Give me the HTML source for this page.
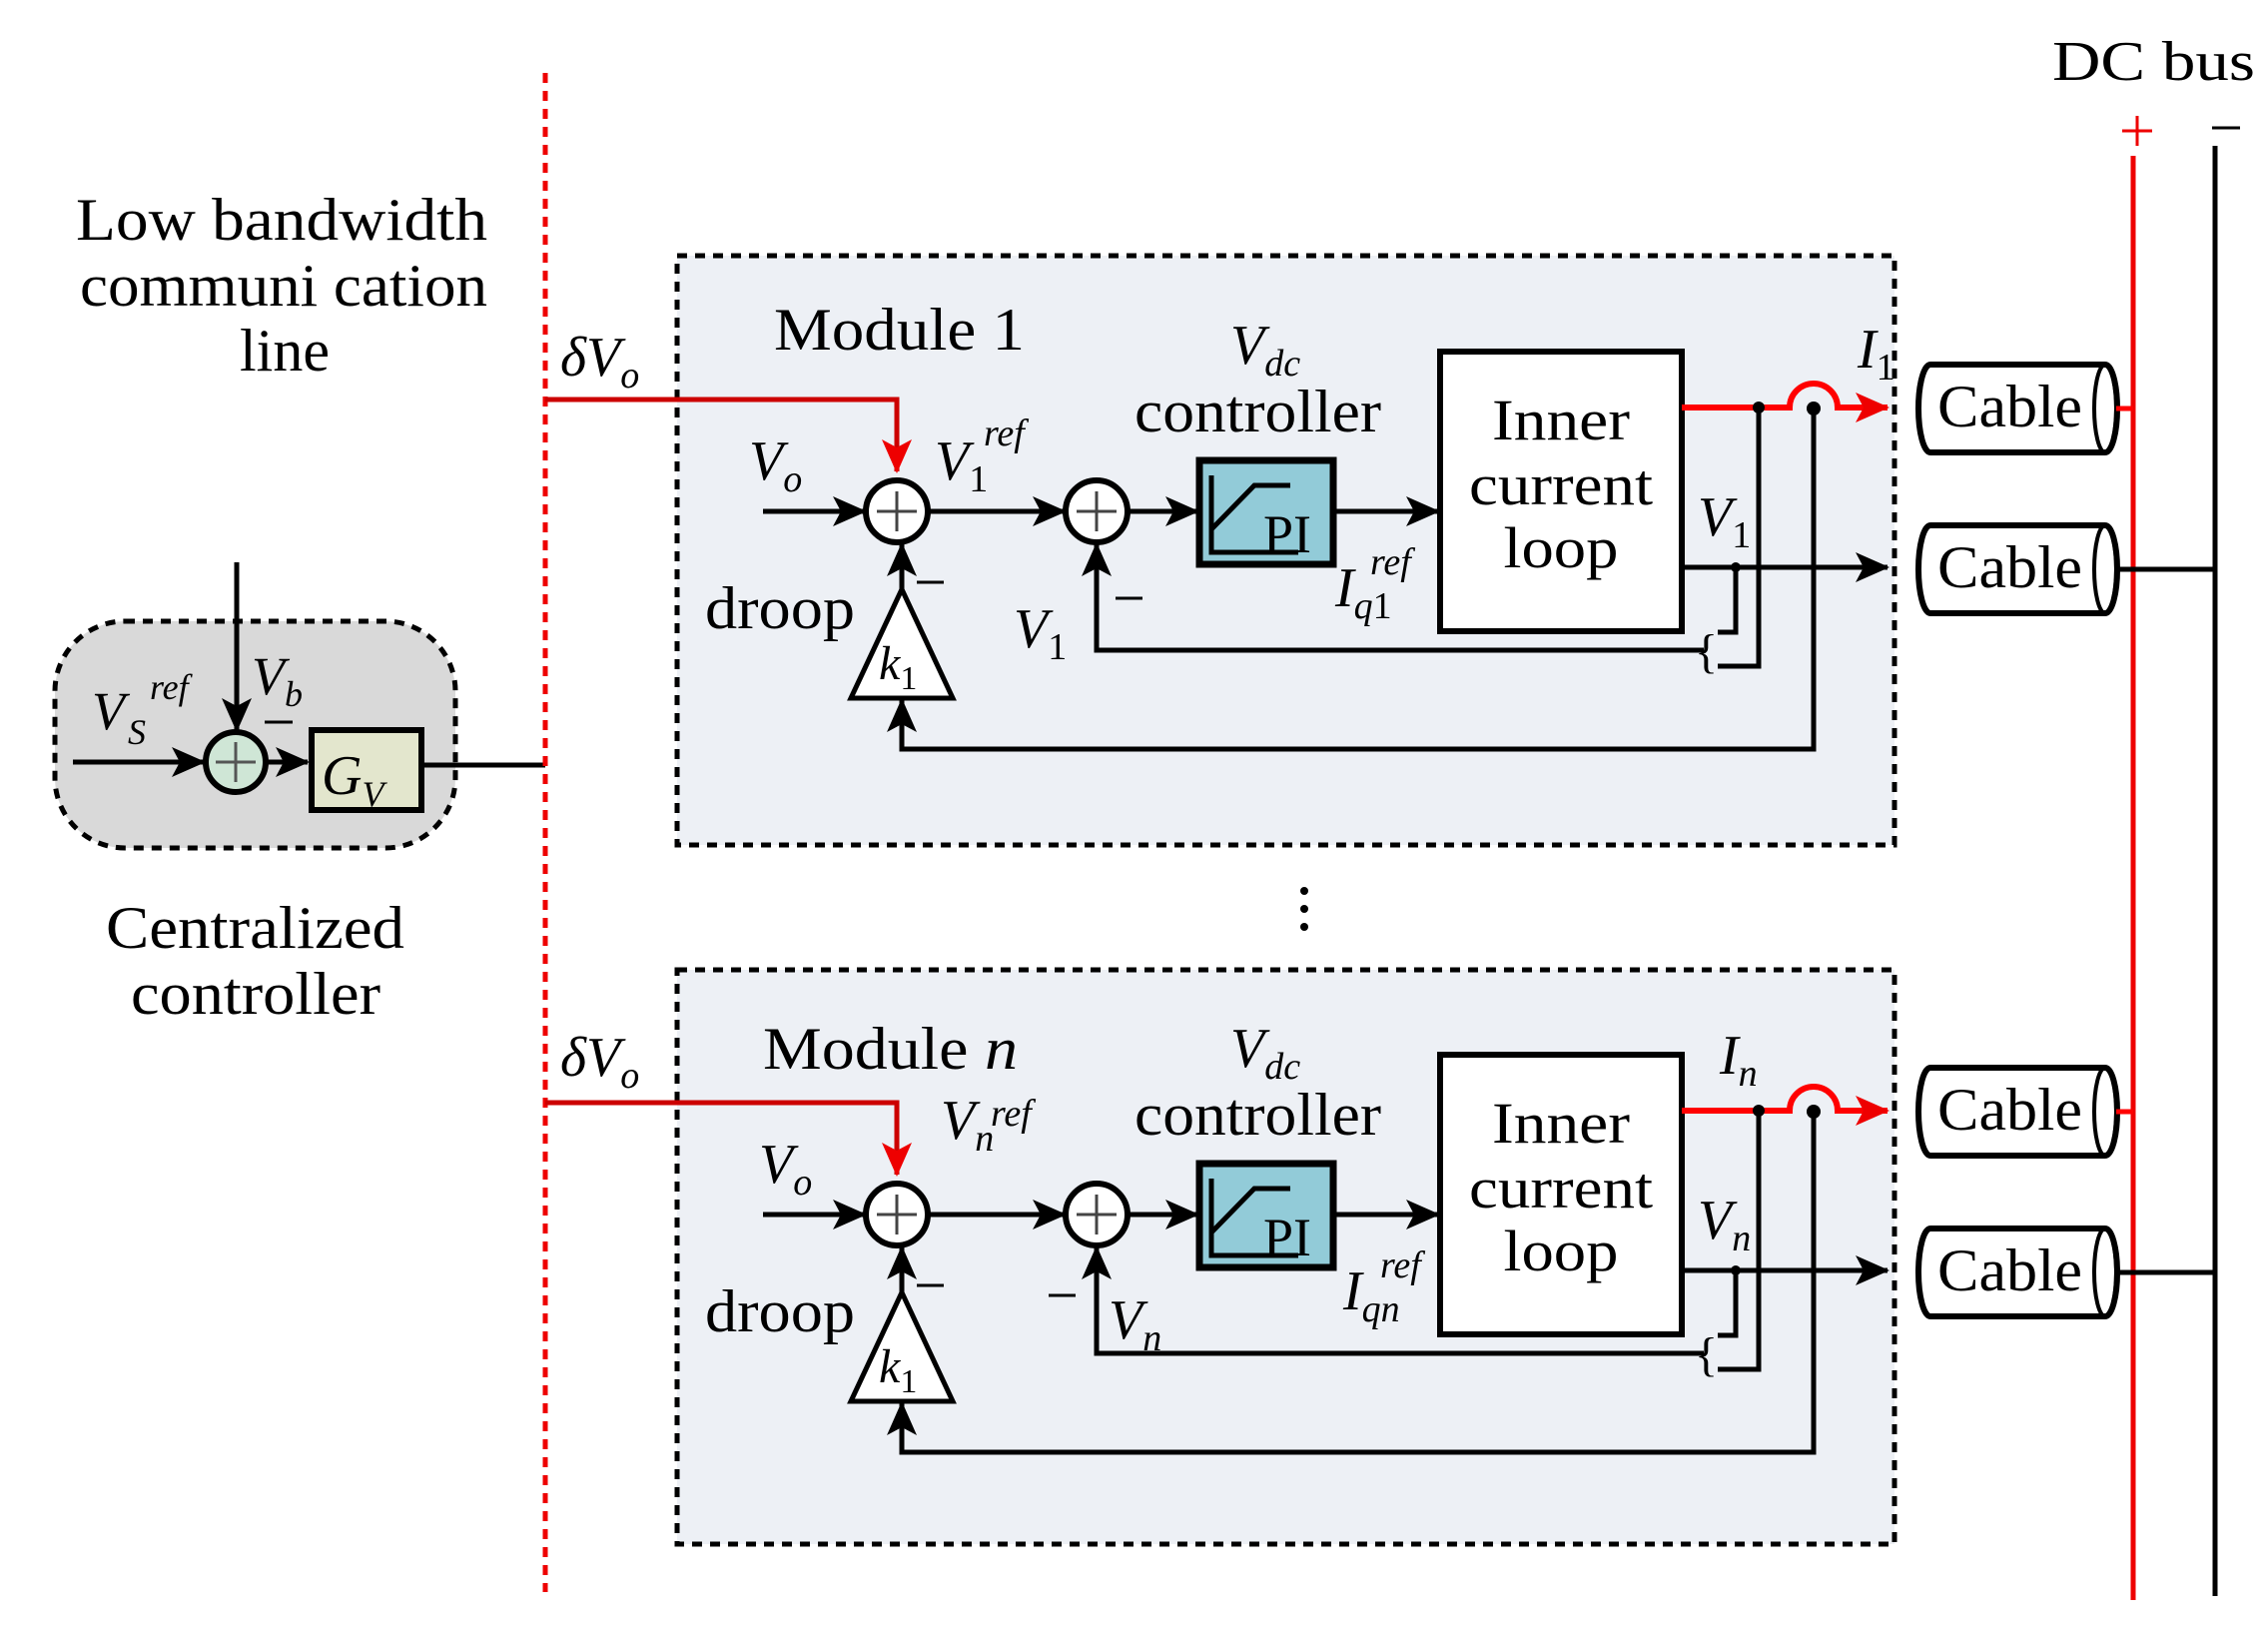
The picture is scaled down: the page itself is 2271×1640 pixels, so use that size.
<!DOCTYPE html>
<html><head><meta charset="utf-8"><style>
html,body{margin:0;padding:0;background:#fff}
svg{display:block}
text{font-family:"Liberation Serif",serif;fill:#000}
.i{font-style:italic}
</style></head><body>
<svg width="2271" height="1640" viewBox="0 0 2271 1640" xmlns="http://www.w3.org/2000/svg">
<defs>
<marker id="ab" markerUnits="userSpaceOnUse" markerWidth="34" markerHeight="30" refX="32" refY="15" orient="auto"><path d="M0,0 L34,15 L0,30 L8,15 Z" fill="#000"/></marker>
<marker id="ar" markerUnits="userSpaceOnUse" markerWidth="34" markerHeight="30" refX="32" refY="15" orient="auto"><path d="M0,0 L34,15 L0,30 L8,15 Z" fill="#e00"/></marker>
</defs>

<text x="76" y="240" font-size="60" textLength="412" lengthAdjust="spacingAndGlyphs">Low bandwidth</text>
<text x="80" y="306" font-size="60" textLength="408" lengthAdjust="spacingAndGlyphs">communi cation</text>
<text x="285" y="371" font-size="60" text-anchor="middle">line</text>
<text x="106" y="949" font-size="60" textLength="299" lengthAdjust="spacingAndGlyphs">Centralized</text>
<text x="131" y="1015" font-size="60" textLength="250" lengthAdjust="spacingAndGlyphs">controller</text>

<rect x="55" y="622" width="401" height="227" rx="70" fill="#d9d9d9" stroke="#000" stroke-width="5" stroke-dasharray="10,8"/>
<line x1="73" y1="763" x2="204" y2="763" stroke="#000" stroke-width="5" marker-end="url(#ab)"/>
<line x1="237" y1="563" x2="237" y2="731" stroke="#000" stroke-width="5" marker-end="url(#ab)"/>
<circle cx="236" cy="763" r="30" fill="#cfe6d6" stroke="#000" stroke-width="6"/>
<path d="M216,763 H256 M236,743 V783" stroke="#555" stroke-width="3"/>
<line x1="266" y1="763" x2="308" y2="763" stroke="#000" stroke-width="5" marker-end="url(#ab)"/>
<rect x="312" y="731" width="110" height="80" fill="#e3e6cd" stroke="#000" stroke-width="6"/>
<text x="322" y="795" font-size="56" class="i">G<tspan font-size="36" dy="12">V</tspan></text>
<line x1="422" y1="766" x2="546" y2="766" stroke="#000" stroke-width="5"/>
<text x="92" y="730" font-size="54" class="i">V</text><text x="128" y="745" font-size="36" class="i">S</text><text x="150" y="700" font-size="36" class="i">ref</text>
<text x="252" y="695" font-size="54" class="i">V<tspan font-size="36" dy="12">b</tspan></text>
<line x1="265" y1="723" x2="293" y2="723" stroke="#000" stroke-width="3"/>

<line x1="546" y1="73" x2="546" y2="1594" stroke="#e00" stroke-width="5" stroke-dasharray="10,8"/>

<text x="2055" y="80" font-size="56" textLength="203" lengthAdjust="spacingAndGlyphs">DC bus</text>
<path d="M2125,131 H2155 M2140,116 V146" stroke="#e00" stroke-width="3"/>
<line x1="2215" y1="128" x2="2243" y2="128" stroke="#000" stroke-width="3"/>
<line x1="2136" y1="156" x2="2136" y2="1602" stroke="#e00" stroke-width="5"/>
<line x1="2218" y1="146" x2="2218" y2="1598" stroke="#000" stroke-width="5"/>

<rect x="678" y="256" width="1219" height="590" fill="#edf0f5" stroke="#000" stroke-width="5" stroke-dasharray="10,8"/>
<rect x="678" y="971" width="1219" height="575" fill="#edf0f5" stroke="#000" stroke-width="5" stroke-dasharray="10,8"/>
<circle cx="1306" cy="892" r="4" fill="#000"/><circle cx="1306" cy="910" r="4" fill="#000"/><circle cx="1306" cy="928" r="4" fill="#000"/>

<g id="m1">
<path d="M546,400 H898 V472" fill="none" stroke="#c00" stroke-width="5" marker-end="url(#ar)"/>
<line x1="764" y1="512" x2="866" y2="512" stroke="#000" stroke-width="5" marker-end="url(#ab)"/>
<circle cx="898" cy="512" r="31" fill="#fff" stroke="#000" stroke-width="6"/>
<path d="M878,512 H918 M898,492 V532" stroke="#444" stroke-width="3"/>
<line x1="929" y1="512" x2="1066" y2="512" stroke="#000" stroke-width="5" marker-end="url(#ab)"/>
<circle cx="1098" cy="512" r="31" fill="#fff" stroke="#000" stroke-width="6"/>
<path d="M1078,512 H1118 M1098,492 V532" stroke="#444" stroke-width="3"/>
<line x1="1129" y1="512" x2="1199" y2="512" stroke="#000" stroke-width="5" marker-end="url(#ab)"/>
<rect x="1201" y="461" width="134" height="104" fill="#92cbd8" stroke="#000" stroke-width="7"/>
<path d="M1213,476 V553 H1300 M1213,530 L1256,486 H1292" fill="none" stroke="#000" stroke-width="5"/>
<text x="1265" y="553" font-size="54">PI</text>
<line x1="1335" y1="512" x2="1440" y2="512" stroke="#000" stroke-width="5" marker-end="url(#ab)"/>
<rect x="1442" y="352" width="242" height="280" fill="#fff" stroke="#000" stroke-width="6"/>
<text x="1563" y="440" font-size="58" text-anchor="middle" textLength="138" lengthAdjust="spacingAndGlyphs">Inner</text>
<text x="1563" y="505" font-size="58" text-anchor="middle" textLength="184" lengthAdjust="spacingAndGlyphs">current</text>
<text x="1563" y="568" font-size="58" text-anchor="middle" textLength="115" lengthAdjust="spacingAndGlyphs">loop</text>
<path d="M903,590 L954,699 H852 Z" fill="#fff" stroke="#000" stroke-width="5"/>
<text x="880" y="680" font-size="48" class="i">k<tspan font-size="34" dy="10" font-style="normal">1</tspan></text>
<line x1="903" y1="590" x2="903" y2="545" stroke="#000" stroke-width="5" marker-end="url(#ab)"/>
<line x1="918" y1="583" x2="945" y2="583" stroke="#000" stroke-width="3"/>
<path d="M1816,409 V750 H903 V701" fill="none" stroke="#000" stroke-width="5" marker-end="url(#ab)"/>
<path d="M1706,651 H1098 V545" fill="none" stroke="#000" stroke-width="5" marker-end="url(#ab)"/>
<path d="M1684,408 H1792 A24,24 0 0 1 1840,408 H1890" fill="none" stroke="#f00" stroke-width="6" marker-end="url(#ar)"/>
<line x1="1684" y1="568" x2="1890" y2="568" stroke="#000" stroke-width="5" marker-end="url(#ab)"/>
<circle cx="1761" cy="408" r="6" fill="#000"/><circle cx="1816" cy="409" r="7" fill="#000"/><circle cx="1738" cy="568" r="5" fill="#000"/>
<path d="M1761,408 V667 H1720" fill="none" stroke="#000" stroke-width="5"/>
<path d="M1738,568 V633 H1720" fill="none" stroke="#000" stroke-width="5"/>
<text x="1697" y="668" font-size="48">{</text>
<path d="M1933,365 H2108 A12,44 0 0 1 2108,453 H1933 A12,44 0 0 1 1933,365 Z" fill="#fff" stroke="#000" stroke-width="6"/>
<ellipse cx="2108" cy="409" rx="11" ry="44" fill="none" stroke="#000" stroke-width="4"/>
<text x="1940" y="427" font-size="60" textLength="145" lengthAdjust="spacingAndGlyphs">Cable</text>
<line x1="2119" y1="409" x2="2136" y2="409" stroke="#f00" stroke-width="5"/>
<path d="M1933,526 H2108 A12,44 0 0 1 2108,614 H1933 A12,44 0 0 1 1933,526 Z" fill="#fff" stroke="#000" stroke-width="6"/>
<ellipse cx="2108" cy="570" rx="11" ry="44" fill="none" stroke="#000" stroke-width="4"/>
<text x="1940" y="588" font-size="60" textLength="145" lengthAdjust="spacingAndGlyphs">Cable</text>
<line x1="2119" y1="570" x2="2218" y2="570" stroke="#000" stroke-width="5"/>
<text x="706" y="629" font-size="60" textLength="150" lengthAdjust="spacingAndGlyphs">droop</text>
<text x="1232" y="364" font-size="56" class="i">V<tspan font-size="38" dy="12">dc</tspan></text>
<text x="1136" y="432" font-size="60" textLength="247" lengthAdjust="spacingAndGlyphs">controller</text>
</g>
<g transform="translate(0,704)"><use href="#m1"/></g>

<!-- module 1 labels -->
<text x="561" y="376" font-size="56" class="i">δV<tspan font-size="38" dy="12">o</tspan></text>
<text x="775" y="350" font-size="60" textLength="251" lengthAdjust="spacingAndGlyphs">Module  1</text>
<text x="750" y="480" font-size="56" class="i">V<tspan font-size="38" dy="12">o</tspan></text>
<text x="936" y="480" font-size="56" class="i">V<tspan font-size="38" dy="12" font-style="normal">1</tspan></text>
<text x="985" y="446" font-size="38" class="i">ref</text>
<text x="1015" y="648" font-size="56" class="i">V<tspan font-size="38" dy="12" font-style="normal">1</tspan></text>
<text x="1700" y="536" font-size="56" class="i">V<tspan font-size="38" dy="12" font-style="normal">1</tspan></text>
<line x1="1117" y1="599" x2="1144" y2="599" stroke="#000" stroke-width="3"/>
<text x="1337" y="607" font-size="56" class="i">I<tspan font-size="38" dy="12">q</tspan><tspan font-size="38" font-style="normal">1</tspan></text>
<text x="1372" y="575" font-size="38" class="i">ref</text>
<text x="1860" y="368" font-size="56" class="i">I<tspan font-size="38" dy="12" font-style="normal">1</tspan></text>

<!-- module n labels -->
<text x="561" y="1077" font-size="56" class="i">δV<tspan font-size="38" dy="12">o</tspan></text>
<text x="764" y="1070" font-size="60" textLength="255" lengthAdjust="spacingAndGlyphs">Module  <tspan class="i">n</tspan></text>
<text x="760" y="1184" font-size="56" class="i">V<tspan font-size="38" dy="12">o</tspan></text>
<text x="942" y="1140" font-size="56" class="i">V<tspan font-size="38" dy="12">n</tspan></text>
<text x="992" y="1127" font-size="38" class="i">ref</text>
<line x1="1050" y1="1297" x2="1077" y2="1297" stroke="#000" stroke-width="3"/>
<text x="1110" y="1340" font-size="56" class="i">V<tspan font-size="38" dy="12">n</tspan></text>
<text x="1700" y="1240" font-size="56" class="i">V<tspan font-size="38" dy="12">n</tspan></text>
<text x="1345" y="1311" font-size="56" class="i">I<tspan font-size="38" dy="12">qn</tspan></text>
<text x="1382" y="1279" font-size="38" class="i">ref</text>
<text x="1722" y="1075" font-size="56" class="i">I<tspan font-size="38" dy="12">n</tspan></text>
</svg>
</body></html>
